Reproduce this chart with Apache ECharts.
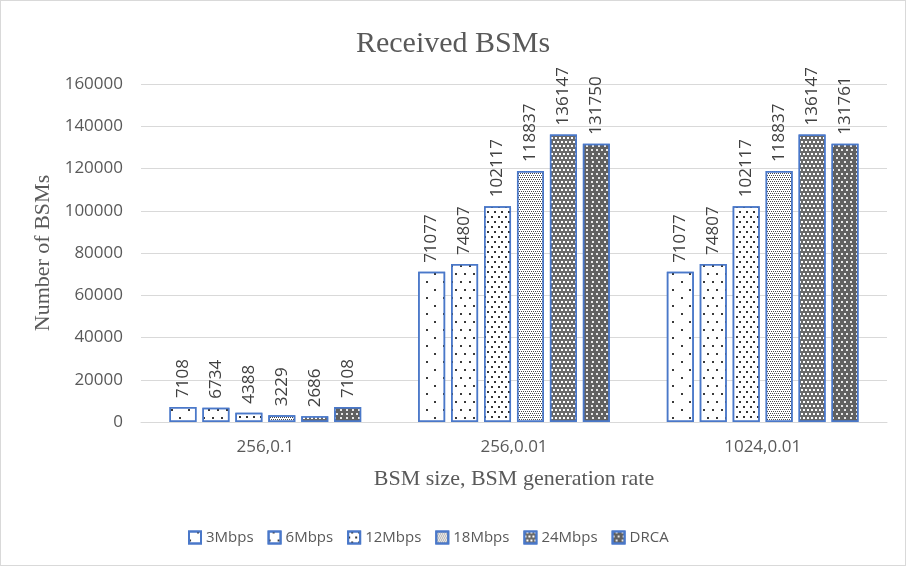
<!DOCTYPE html>
<html>
<head>
<meta charset="utf-8">
<title>Received BSMs</title>
<script src="https://cdn.jsdelivr.net/npm/echarts@6/dist/echarts.min.js"></script>
<style>
  html, body { margin: 0; padding: 0; background: #ffffff; }
  #chart { width: 904px; height: 564px; border: 1px solid #d9d9d9; }
</style>
</head>
<body>
<div id="chart"></div>
<script>
// Scenario labels: BSM size, BSM generation rate
const categories = ['256,0.1', '256,0.01', '1024,0.01'];
const seriesNames = ['3Mbps', '6Mbps', '12Mbps', '18Mbps', '24Mbps', 'DRCA'];

// Received BSM counts per scenario
const bsm3Mbps  = [7108, 71077, 71077];
const bsm6Mbps  = [6734, 74807, 74807];
const bsm12Mbps = [4388, 102117, 102117];
const bsm18Mbps = [3229, 118837, 118837];
const bsm24Mbps = [2686, 136147, 136147];
const bsmDRCA   = [7108, 131750, 131761];

const yTicks = [0, 20000, 40000, 60000, 80000, 100000, 120000, 140000, 160000];

const seriesValues = [bsm3Mbps, bsm6Mbps, bsm12Mbps, bsm18Mbps, bsm24Mbps, bsmDRCA];

// Fill patterns, from sparse dots to dense dark hatching
const fills = [
  { color: '#ffffff', decal: { symbol: 'rect', symbolSize: 1, color: '#3a3a3a',
      dashArrayX: [[1.5, 14.5], [0, 8, 1.5, 6.5]], dashArrayY: [1.5, 5.5] } },
  { color: '#ffffff', decal: { symbol: 'rect', symbolSize: 1, color: '#3a3a3a',
      dashArrayX: [[1.5, 6.5], [0, 4, 1.5, 2.5]], dashArrayY: [1.5, 5.5] } },
  { color: '#ffffff', decal: { symbol: 'rect', symbolSize: 1, color: '#333333',
      dashArrayX: [[1.5, 4.5], [0, 3, 1.5, 1.5]], dashArrayY: [1.5, 2.5] } },
  { color: '#ffffff', decal: { symbol: 'rect', symbolSize: 1, color: '#4a4a4a',
      dashArrayX: [[1, 1], [0, 1, 1, 0]], dashArrayY: [1, 1] } },
  { color: '#6a6a6a', decal: { symbol: 'rect', symbolSize: 1, color: '#ffffff',
      dashArrayX: [[1.5, 1.5], [0, 1.5, 1.5, 0]], dashArrayY: [1.5, 1.5] } },
  { color: '#606060', decal: { symbol: 'rect', symbolSize: 1, color: '#e6e6e6',
      dashArrayX: [[1.5, 3], [0, 2.25, 1.5, 0.75]], dashArrayY: [1.5, 1.5] } }
];

const textColor = '#595959';
const sansFont = '"Open Sans", "Noto Sans", sans-serif';
const serifFont = '"Liberation Serif", "DejaVu Serif", serif';

const chart = echarts.init(document.getElementById('chart'), null, { renderer: 'canvas' });

const series = seriesNames.map((name, i) => ({
  name: name,
  type: 'bar',
  data: seriesValues[i],
  barWidth: 27,
  barGap: '22%',
  itemStyle: {
    color: fills[i].color,
    decal: fills[i].decal,
    borderColor: '#4a78c9',
    borderWidth: 1.5
  },
  label: {
    show: true,
    position: 'top',
    rotate: 90,
    align: 'left',
    verticalAlign: 'middle',
    distance: 9,
    color: '#404040',
    fontFamily: sansFont,
    fontSize: 17
  }
}));

chart.setOption({
  animation: false,
  backgroundColor: '#ffffff',
  title: {
    text: 'Received BSMs',
    left: 'center',
    top: 23,
    textStyle: {
      fontFamily: serifFont,
      fontWeight: 'normal',
      fontSize: 30,
      color: textColor
    }
  },
  legend: {
    data: seriesNames,
    left: 182,
    top: 524,
    itemWidth: 12,
    itemHeight: 12,
    itemGap: 14,
    icon: 'rect',
    textStyle: { fontFamily: sansFont, fontSize: 15, color: textColor }
  },
  grid: { left: 140, right: 18, top: 83, bottom: 143, containLabel: false },
  xAxis: {
    type: 'category',
    data: categories,
    name: 'BSM size, BSM generation rate',
    nameLocation: 'middle',
    nameGap: 46,
    nameTextStyle: { fontFamily: serifFont, fontSize: 22, color: textColor },
    axisLine: { lineStyle: { color: '#d9d9d9', width: 1 } },
    axisTick: { show: false },
    axisLabel: { margin: 17, fontFamily: sansFont, fontSize: 17, color: textColor }
  },
  yAxis: {
    type: 'value',
    min: yTicks[0],
    max: yTicks[yTicks.length - 1],
    interval: yTicks[1] - yTicks[0],
    name: 'Number of BSMs',
    nameLocation: 'middle',
    nameGap: 79,
    nameTextStyle: { fontFamily: serifFont, fontSize: 22, color: textColor },
    axisLine: { show: false },
    axisTick: { show: false },
    splitLine: { lineStyle: { color: '#d9d9d9', width: 1 } },
    axisLabel: {
      margin: 18,
      fontFamily: sansFont,
      fontSize: 17,
      color: textColor,
      formatter: (v) => String(v)
    }
  },
  series: series
});
</script>
</body>
</html>
